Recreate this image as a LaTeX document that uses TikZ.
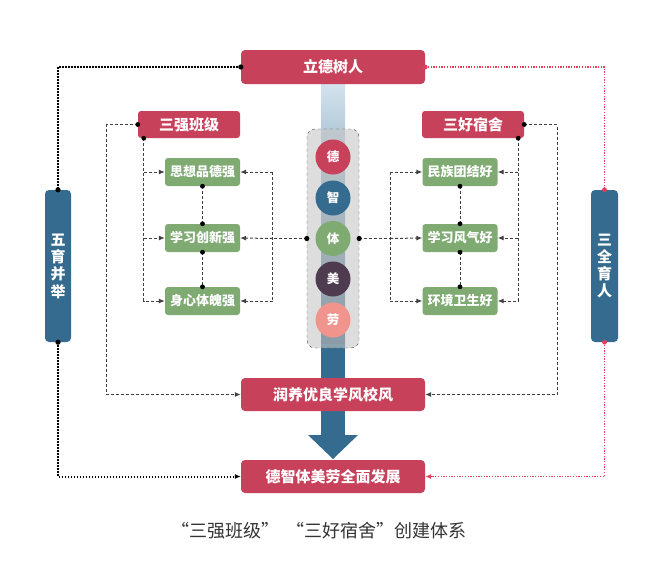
\documentclass[tikz,border=0pt]{standalone}
\usepackage{fontspec}
\setmainfont{Noto Sans CJK SC}
\usetikzlibrary{arrows.meta,calc}
\definecolor{cred}{HTML}{C8415A}
\definecolor{cgreen}{HTML}{7FAB73}
\definecolor{cblue}{HTML}{356B8E}
\definecolor{cpurple}{HTML}{4E3B4F}
\definecolor{cpink}{HTML}{F0948D}
\definecolor{clight}{HTML}{D3E3EE}
\definecolor{cdot}{HTML}{E0405A}
\tikzset{
  redbox/.style={fill=cred, rounded corners=4pt, text=white, inner sep=0pt,
    font=\bfseries\fontsize{15}{15}\selectfont},
  greenbox/.style={fill=cgreen, rounded corners=3pt, text=white, inner sep=0pt,
    minimum width=75pt, minimum height=28pt, font=\bfseries\fontsize{13}{13}\selectfont},
  bluebar/.style={fill=cblue, rounded corners=4pt, text=white, inner sep=0pt,
    align=center, font=\bfseries\fontsize{15}{17.3}\selectfont},
  ball/.style={circle, inner sep=0pt, minimum size=35pt, text=white,
    font=\bfseries\fontsize{12.5}{12.5}\selectfont},
  pillbox/.style={draw=black!70, dashed, fill=black!22, fill opacity=0.6,
    rounded corners=8pt, minimum width=52pt, minimum height=219pt, inner sep=0pt},
  dsh/.style={draw=black!75, line width=1pt, dash pattern=on 3pt off 2pt},
  bdot/.style={draw=black, line width=2pt, dash pattern=on 1.6pt off 1.4pt},
  rdot/.style={draw=cdot, line width=1.5pt, dash pattern=on 1.3pt off 1.4pt},
  tip/.style={-{Latex[length=6pt,width=5pt]}},
}
\begin{document}
\begin{tikzpicture}[x=1pt,y=-1pt]
\useasboundingbox (0,0) rectangle (649,568);
% gradient bar
\shade[top color=clight, bottom color=cblue!85!black] (321,84) rectangle (345,345);
\fill[cblue] (321,344) rectangle (345,437);
\fill[cblue] (308,435) -- (358,435) -- (333,459) -- cycle;
% pill
\node[pillbox] (pill) at (333,238.5) {};
\node[ball, fill=cred] (de) at (333,157) {德};
\node[ball, fill=cblue] (zhi) at (333,198) {智};
\node[ball, fill=cgreen] (ti) at (333,238.5) {体};
\node[ball, fill=cpurple] (mei) at (333,279) {美};
\node[ball, fill=cpink] (lao) at (333,320) {劳};
% main boxes
\node[redbox, minimum width=184pt, minimum height=34pt] (top) at (333,67) {立德树人};
\node[redbox, minimum width=184pt, minimum height=33pt] (run) at (333,394.5) {润养优良学风校风};
\node[redbox, minimum width=184pt, minimum height=33pt] (bot) at (333,476.5) {德智体美劳全面发展};
\node[redbox, minimum width=102pt, minimum height=27pt, rounded corners=3pt] (sq) at (189,124.5) {三强班级};
\node[redbox, minimum width=102pt, minimum height=27pt, rounded corners=3pt] (sh) at (473,124.5) {三好宿舍};
% green boxes
\node[greenbox] (l1) at (202.5,172) {思想品德强};
\node[greenbox] (l2) at (202.5,238) {学习创新强};
\node[greenbox] (l3) at (202.5,301) {身心体魄强};
\node[greenbox] (r1) at (460,172) {民族团结好};
\node[greenbox] (r2) at (460,238) {学习风气好};
\node[greenbox] (r3) at (460,301) {环境卫生好};
% side bars
\node[bluebar, minimum width=26pt, minimum height=152pt] (wu) at (58,266) {五\\育\\并\\举};
\node[bluebar, minimum width=27pt, minimum height=152pt] (san) at (604.5,266) {三\\全\\育\\人};
% outer dotted connectors
\draw[bdot] (top.west) -| (wu.north);
\draw[bdot, tip] (wu.south) |- (bot.west);
\fill (top.west) circle (2.6pt) (wu.north) circle (2.6pt) (wu.south) circle (2.6pt);
\draw[rdot] (top.east) -| (san.north);
\draw[rdot, -{Latex[length=6pt,width=5pt]}] (san.south) |- (bot.east);
\fill[cdot] (top.east) circle (2.4pt) (san.north) circle (2.4pt) (san.south) circle (2.4pt);
% outer dashed to run
\draw[dsh, tip] (sq.west) -- ++(-31,0) |- (run.west);
\draw[dsh, tip] (sh.east) -- ++(33,0) |- (run.east);
\fill (sq.west) circle (2.4pt) (sh.east) circle (2.4pt);
% left group inner
\coordinate (la) at ($(sq.south west)+(6,0)$);
\draw[dsh, tip] (la) |- (l3.west);
\draw[dsh, tip] (la |- l1.west) -- (l1.west);
\draw[dsh, tip] (la |- l2.west) -- (l2.west);
\fill (la) circle (2.4pt);
\coordinate (lb) at ($(pill.west)+(-34,0)$);
\draw[dsh, line width=1.4pt] (pill.west) -- (lb);
\draw[dsh, tip] (lb) -- (l2.east);
\draw[dsh] (lb |- l1.east) -- (lb |- l3.east);
\draw[dsh, tip] (lb |- l1.east) -- (l1.east);
\draw[dsh, tip] (lb |- l3.east) -- (l3.east);
\fill (pill.west) circle (2.6pt);
% right group inner
\coordinate (ra) at ($(sh.south east)+(-6,0)$);
\draw[dsh, tip] (ra) |- (r3.east);
\draw[dsh, tip] (ra |- r1.east) -- (r1.east);
\draw[dsh, tip] (ra |- r2.east) -- (r2.east);
\fill (ra) circle (2.4pt);
\coordinate (rb) at ($(pill.east)+(31,0)$);
\draw[dsh, line width=1.4pt] (pill.east) -- (rb);
\draw[dsh, tip] (rb) -- (r2.west);
\draw[dsh] (rb |- r1.west) -- (rb |- r3.west);
\draw[dsh, tip] (rb |- r1.west) -- (r1.west);
\draw[dsh, tip] (rb |- r3.west) -- (r3.west);
\fill (pill.east) circle (2.6pt);
% vertical links between green boxes
\foreach \a/\b in {l1/l2,l2/l3,r1/r2,r2/r3}{
  \draw[dsh] (\a.south) -- (\b.north);
  \fill (\a.south) circle (2.4pt) (\b.north) circle (2.4pt);
}
% caption
\node[font=\fontsize{18}{18}\selectfont, text=black!80] (cap) at (319,531) {“三强班级”\hspace{8pt}“三好宿舍”创建体系};
\end{tikzpicture}
\end{document}
